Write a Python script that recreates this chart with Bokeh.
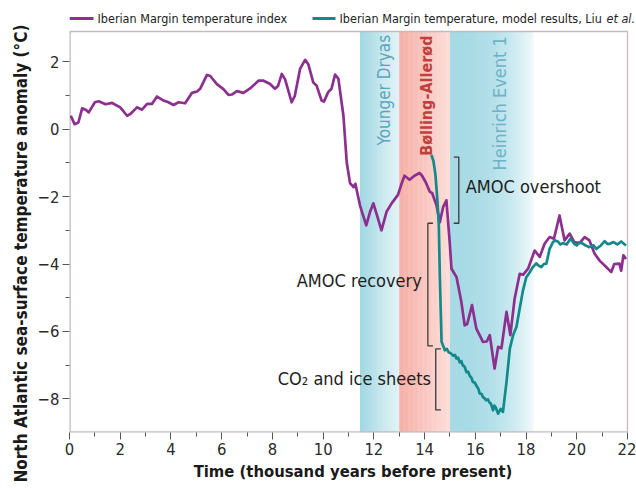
from bokeh.plotting import figure
from bokeh.models import Label, Range1d, FixedTicker, Title
from bokeh.embed import file_html
from bokeh.resources import INLINE

FONT = "DejaVu Sans Condensed"

# ---------------- data ----------------
purple_x = [0.05, 0.2, 0.35, 0.5, 0.64, 0.76, 1.0, 1.15, 1.42, 1.68, 2.0, 2.27, 2.4, 2.66, 2.86,
            3.06, 3.25, 3.45, 3.71, 3.9, 4.1, 4.3, 4.56, 4.83, 5.03, 5.15, 5.42, 5.55, 5.81, 6.07,
            6.27, 6.4, 6.6, 6.86, 7.12, 7.45, 7.65, 7.91, 8.1, 8.22, 8.37, 8.5, 8.76, 8.88, 9.09,
            9.29, 9.42, 9.61, 9.74, 9.94, 10.03, 10.2, 10.33, 10.47, 10.6, 10.8, 10.93, 11.06, 11.2,
            11.27, 11.45, 11.55, 11.7, 11.85, 11.98, 12.1, 12.3, 12.5, 12.7, 12.95, 13.1, 13.21,
            13.41, 13.6, 13.8, 13.9, 14.05, 14.2, 14.3, 14.47, 14.6, 14.73, 14.86, 14.99, 15.06,
            15.26, 15.45, 15.58, 15.68, 15.87, 16.04, 16.17, 16.3, 16.45, 16.57, 16.76, 16.9, 17.03,
            17.23, 17.38, 17.55, 17.75, 17.88, 18.08, 18.34, 18.54, 18.73, 18.93, 19.1, 19.32, 19.52,
            19.72, 19.9, 20.11, 20.31, 20.5, 20.7, 20.9, 21.16, 21.36, 21.48, 21.68, 21.75, 21.84, 21.94]
purple_y = [0.40, 0.15, 0.2, 0.62, 0.58, 0.5, 0.80, 0.83, 0.74, 0.78, 0.65, 0.40, 0.45, 0.65, 0.58,
            0.75, 0.75, 0.97, 0.85, 0.80, 0.72, 0.80, 0.77, 1.08, 1.12, 1.2, 1.61, 1.58, 1.34, 1.19,
            1.02, 1.03, 1.13, 1.08, 1.21, 1.44, 1.44, 1.34, 1.2, 1.28, 1.64, 1.48, 0.8, 0.98, 1.79,
            2.06, 1.92, 1.39, 1.3, 0.85, 0.82, 1.1, 1.2, 1.62, 1.5, 0.4, -0.98, -1.6, -1.72,
            -1.62, -2.25, -2.5, -2.85, -2.45, -2.2, -2.5, -3.0, -2.45, -2.2, -1.95, -1.6, -1.38,
            -1.5, -1.38, -1.3, -1.38, -1.58, -1.85, -1.9, -2.26, -2.76, -2.31, -2.11, -3.35, -4.14,
            -4.39, -5.13, -5.82, -5.78, -5.22, -5.92, -6.11, -6.31, -6.3, -6.11, -7.1, -6.46, -6.5,
            -5.42, -6.11, -5.03, -4.29, -4.32, -4.14, -3.6, -3.79, -3.4, -3.2, -3.25, -2.56, -3.3,
            -3.1, -3.35, -3.38, -3.2, -3.3, -3.69, -3.9, -4.09, -4.24, -4.0, -3.99, -4.2, -3.74, -3.85]

teal_x = [14.27, 14.35, 14.43, 14.51, 14.56, 14.6, 14.67, 14.8, 14.88, 14.95, 15.05, 15.13, 15.2,
          15.25, 15.32, 15.39, 15.45, 15.5, 15.58, 15.65, 15.72, 15.78, 15.85, 15.9, 15.98, 16.05,
          16.12, 16.17, 16.25, 16.3, 16.36, 16.42, 16.5, 16.55, 16.61, 16.7, 16.75, 16.8, 16.9,
          17.0, 17.09, 17.23, 17.36, 17.49, 17.62, 17.75, 17.88, 18.01, 18.14, 18.27, 18.4, 18.5,
          18.6, 18.7, 18.8, 18.93, 19.06, 19.15, 19.25, 19.35, 19.45, 19.6, 19.75, 19.9, 20.0,
          20.1, 20.2, 20.35, 20.5, 20.65, 20.77, 20.95, 21.1, 21.2, 21.3, 21.45, 21.6, 21.75, 21.94]
teal_y = [-0.76, -0.95, -1.37, -2.16, -2.85, -4.33, -6.31, -6.56, -6.52, -6.62, -6.66, -6.72, -6.7,
          -6.8, -6.78, -6.92, -6.88, -7.0, -7.05, -7.21, -7.2, -7.32, -7.38, -7.5, -7.52, -7.62,
          -7.7, -7.84, -7.86, -7.95, -7.98, -8.04, -8.02, -8.1, -8.14, -8.34, -8.2, -8.25, -8.44,
          -8.3, -8.39, -7.5, -6.51, -6.11, -5.87, -5.32, -4.78, -4.39, -4.25, -4.09, -3.98, -4.05,
          -4.09, -4.0, -3.99, -3.55, -3.35, -3.3, -3.33, -3.42, -3.38, -3.42, -3.25, -3.4, -3.45,
          -3.36, -3.38, -3.45, -3.5, -3.44, -3.55, -3.45, -3.32, -3.4, -3.4, -3.35, -3.42, -3.33, -3.45]

band_names = ["Younger Dryas", "Bølling-Allerød", "Heinrich Event 1"]
band_start = [11.45, 13.0, 15.0]
band_end = [13.0, 15.0, 18.3]

x_major = [0, 2, 4, 6, 8, 10, 12, 14, 16, 18, 20, 22]
x_minor = [1, 3, 5, 7, 9, 11, 13, 15, 17, 19, 21]
y_major = [-8, -6, -4, -2, 0, 2]
y_minor = [-7, -5, -3, -1, 1]
y_tick_labels = ["\u22128", "\u22126", "\u22124", "\u22122", "0", "2"]

bracket_names = ["AMOC overshoot", "AMOC recovery", "CO\u2082 and ice sheets"]
bracket_x = [15.35, 14.13, 14.44]
bracket_top = [-0.83, -2.79, -6.52]
bracket_bottom = [-2.79, -6.43, -8.33]

legend_labels = ["Iberian Margin temperature index",
                 "Iberian Margin temperature, model results, Liu"]
legend_italic = "et al."

# ---------------- styles / layout ----------------
band_left_color = [(162, 216, 228), (246, 174, 165), (166, 218, 229)]
band_right_color = [(222, 241, 245), (253, 222, 217), (242, 250, 252)]
band_gamma = [1.0, 1.0, 2.4]
band_text_color = ["#5ba5b9", "#c0403c", "#6db2c6"]
band_text_style = ["normal", "bold", "normal"]
band_text_size = ["17px", "16px", "18px"]
band_text_x = [12.4, 14.07, 16.94]
band_text_y = [2.8, 2.78, 2.76]
bracket_dir = [-1, 1, 1]
bracket_tick = 0.2
bracket_label_x = [15.62, 13.89, 14.25]
bracket_label_y = [-1.69, -4.5, -7.4]
bracket_label_align = ["left", "right", "right"]

PURPLE = "#8c2f8f"
TEAL = "#14898b"
BOX = "#c4bcbc"
X0, X1 = 0, 22
Y0, Y1 = -9.0, 2.9          # plotting box
W, H = 636, 489
ML, MB = 69, 57
BOX_RIGHT_PX = 627           # page x of the box right edge
BOX_TOP_PX = 31              # page y of the box top
BOX_H = H - MB - BOX_TOP_PX
UNIT = (Y1 - Y0) / BOX_H                 # data units per px (y)
XUNIT = (X1 - X0) / (BOX_RIGHT_PX - ML)  # data units per px (x)
YT = Y1 + BOX_TOP_PX * UNIT              # frame top (legend lives above the box)
XR = X1 + (W - BOX_RIGHT_PX) * XUNIT     # frame right (room for the legend)

p = figure(width=W, height=H, x_range=Range1d(X0, XR), y_range=Range1d(Y0, YT),
           output_backend="svg", toolbar_location=None,
           min_border_left=ML, min_border_right=0, min_border_top=0, min_border_bottom=MB)
p.xgrid.visible = False
p.ygrid.visible = False
p.outline_line_color = None
p.background_fill_color = "white"

# gradient bands
N = 40
for s, e, cl, cr, g in zip(band_start, band_end, band_left_color, band_right_color, band_gamma):
    lefts, rights, cols = [], [], []
    w = (e - s) / N
    for i in range(N):
        t = ((i + 0.5) / N) ** g
        c = tuple(int(round(a + (b - a) * t)) for a, b in zip(cl, cr))
        lefts.append(s + i * w)
        rights.append(s + (i + 1) * w + (w * 0.3 if i < N - 1 else 0))
        cols.append("#%02x%02x%02x" % c)
    p.quad(left=lefts, right=rights, bottom=Y0, top=Y1, fill_color=cols, line_color=None)

# plot box
p.line([X0, X0], [Y0, Y1], line_color=BOX, line_width=2.6)    # on frame edge, half shows
p.line([X0, X1], [Y0, Y0], line_color=BOX, line_width=2.6)    # on frame edge, half shows
p.line([X0, X1, X1], [Y1, Y1, Y0], line_color=BOX, line_width=1.3)

# band labels
for name, tx, ty, col, sty, sz in zip(band_names, band_text_x, band_text_y, band_text_color,
                                      band_text_style, band_text_size):
    p.add_layout(Label(x=tx, y=ty, text=name, angle=90, angle_units="deg", text_align="right",
                       text_baseline="middle", text_font=FONT, text_font_size=sz,
                       text_font_style=sty, text_color=col))

# lines
p.line(purple_x, purple_y, line_color=PURPLE, line_width=2.7, line_join="round")
p.line(teal_x, teal_y, line_color=TEAL, line_width=2.7, line_join="round")

# brackets
bxs, bys = [], []
for bx, bt, bb, d in zip(bracket_x, bracket_top, bracket_bottom, bracket_dir):
    bxs.append([bx + d * bracket_tick, bx, bx, bx + d * bracket_tick])
    bys.append([bt, bt, bb, bb])
p.multi_line(bxs, bys, line_color="#3a3a3a", line_width=1.3)
for name, lx, ly, al in zip(bracket_names, bracket_label_x, bracket_label_y, bracket_label_align):
    p.add_layout(Label(x=lx, y=ly, text=name, text_align=al, text_baseline="middle",
                       text_font=FONT, text_font_size="18px", text_color="#1e1e1e"))

# axes
for ax in (p.xaxis[0], p.yaxis[0]):
    ax.axis_line_color = None
    ax.major_tick_line_color = "#555555"
    ax.minor_tick_line_color = "#555555"
    ax.major_tick_out = 7
    ax.major_tick_in = 0
    ax.minor_tick_out = 4
    ax.minor_tick_in = 0
    ax.major_label_text_font = FONT
    ax.major_label_text_font_size = "16.5px"
    ax.major_label_text_color = "#2a2a2a"
    ax.major_label_standoff = 3
    ax.axis_label_text_font = FONT
    ax.axis_label_text_font_size = "16.5px"
    ax.axis_label_text_font_style = "bold"
    ax.axis_label_text_color = "#1a1a1a"
    ax.axis_label_standoff = 4
p.xaxis.ticker = FixedTicker(ticks=x_major, minor_ticks=x_minor)
p.yaxis.ticker = FixedTicker(ticks=y_major, minor_ticks=y_minor)
p.yaxis.major_label_overrides = {v: t for v, t in zip(y_major, y_tick_labels)}
p.xaxis.axis_label = "Time (thousand years before present)"

p.add_layout(Title(text="North Atlantic sea-surface temperature anomaly (\u00b0C)",
                   align="left", offset=-50, standoff=8, text_font=FONT, text_font_size="17px",
                   text_font_style="bold", text_color="#1a1a1a"), "left")

# legend above the box (inside the extended frame)
LEG_Y = Y1 + 13 * UNIT
legend_line_px = [(0, 24), (243, 266)]
legend_text_px = [28, 270]
legend_italic_px = 537
for (a, b), tx, txt, col in zip(legend_line_px, legend_text_px, legend_labels, [PURPLE, TEAL]):
    p.line([X0 + a * XUNIT, X0 + b * XUNIT], [LEG_Y, LEG_Y], line_color=col, line_width=3)
    p.add_layout(Label(x=X0 + tx * XUNIT, y=LEG_Y, text=txt, text_baseline="middle",
                       text_font=FONT, text_font_size="12.5px", text_color="#222222"))
p.add_layout(Label(x=X0 + legend_italic_px * XUNIT, y=LEG_Y, text=legend_italic,
                   text_baseline="middle", text_font=FONT, text_font_size="12.5px",
                   text_font_style="italic", text_color="#222222"))

open("out.html", "w").write(file_html(p, INLINE))
